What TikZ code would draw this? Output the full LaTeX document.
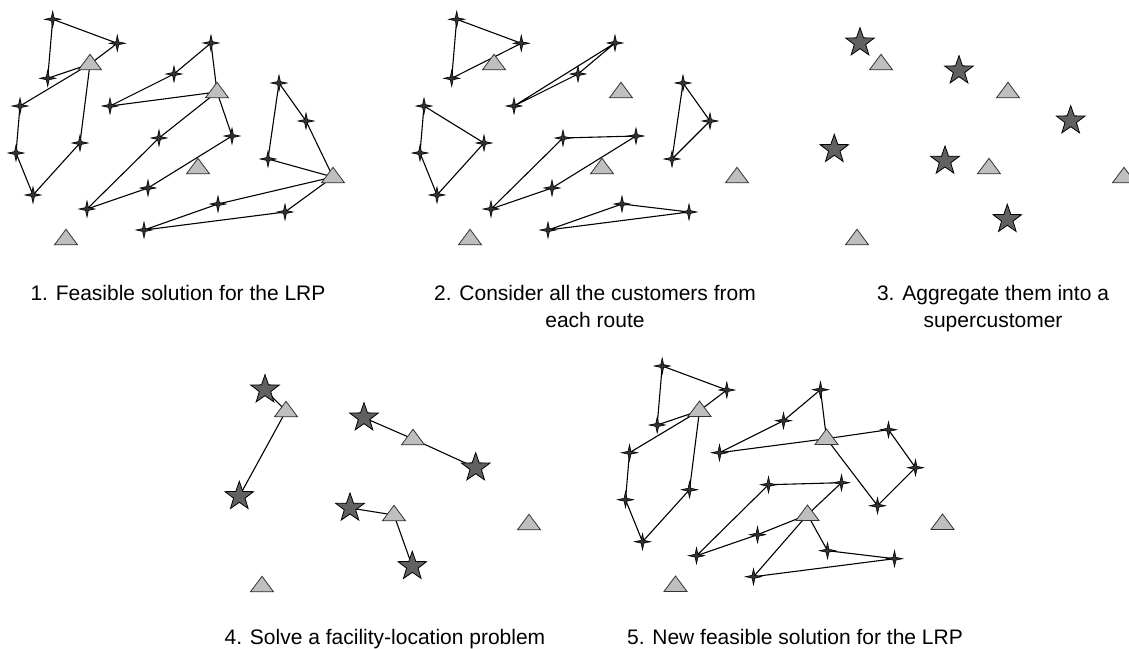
\documentclass[tikz,border=0pt]{standalone}
\usepackage{fontspec}
\setmainfont{Liberation Sans}
\usetikzlibrary{shapes.geometric,backgrounds}

% Building blocks of the five panels (coordinates in pixels, y downwards)
\newcommand\depotset[1]{%
  \node[depot] (#1D1) at (90,64) {};
  \node[depot] (#1D2) at (217,92) {};
  \node[depot] (#1D3) at (333,177) {};
  \node[depot] (#1D4) at (198,168) {};
  \node[depot] (#1D5) at (66,239) {};}
\newcommand\customerset[1]{%
  \node[customer] (#1A1) at (52.7,19.3) {};
  \node[customer] (#1A2) at (117.3,43.3) {};
  \node[customer] (#1A3) at (47.7,78.3) {};
  \node[customer] (#1B1) at (20,106) {};
  \node[customer] (#1B2) at (16,153) {};
  \node[customer] (#1B3) at (33,195) {};
  \node[customer] (#1B4) at (80,143) {};
  \node[customer] (#1C1) at (211,43) {};
  \node[customer] (#1C2) at (174,74) {};
  \node[customer] (#1C3) at (110,106) {};
  \node[customer] (#1E1) at (159,138) {};
  \node[customer] (#1E2) at (87,209) {};
  \node[customer] (#1E3) at (148,188) {};
  \node[customer] (#1E4) at (232,136) {};
  \node[customer] (#1F1) at (279,83) {};
  \node[customer] (#1F2) at (306,121) {};
  \node[customer] (#1F3) at (268,159) {};
  \node[customer] (#1G1) at (218,204) {};
  \node[customer] (#1G2) at (144,230) {};
  \node[customer] (#1G3) at (285,212) {};}
\newcommand\superset[1]{%
  \node[super] (#1SA) at (69,42.7) {};
  \node[super] (#1SB) at (43.3,149.3) {};
  \node[super] (#1SC) at (168,70.7) {};
  \node[super] (#1SE) at (154,161) {};
  \node[super] (#1SF) at (279.7,120.7) {};
  \node[super] (#1SG) at (216.3,219.3) {};}

\begin{document}
\begin{tikzpicture}[x=1pt,y=-1pt,
  depot/.style={isosceles triangle, shape border rotate=90,
    isosceles triangle stretches, minimum width=23pt, minimum height=15.5pt,
    inner sep=0pt, fill=black!25, draw=black!80, line width=0.8pt},
  customer/.style={star, star points=4, star point ratio=4,
    minimum size=16pt, inner sep=0pt, fill=black!80, draw=black, line width=0.6pt},
  super/.style={star, star points=5, star point ratio=2.5,
    minimum size=30pt, inner sep=0pt, fill=black!62, draw=black, line width=0.8pt},
  route/.style={draw=black, line width=1.1pt, line join=round},
  caption/.style={anchor=base, align=center, inner sep=0pt,
    font=\fontsize{21}{27}\selectfont}]

\useasboundingbox (0,0) rectangle (1129,648);

% 1. feasible solution
\begin{scope}
  \customerset{p1}
  \depotset{p1}
\end{scope}
% 2. customers of each route
\begin{scope}[shift={(404,0)}]
  \customerset{p2}
  \depotset{p2}
\end{scope}
% 3. supercustomers
\begin{scope}[shift={(791,0)}]
  \superset{p3}
  \depotset{p3}
\end{scope}
% 4. facility-location solution
\begin{scope}[shift={(196,347)}]
  \superset{p4}
  \depotset{p4}
\end{scope}
% 5. new feasible solution
\begin{scope}[shift={(609.5,346.7)}]
  \customerset{p5}
  \depotset{p5}
\end{scope}

\begin{scope}[on background layer]
  \fill[white] (0,0) rectangle (1129,648);
  % panel 1 routes
  \draw[route] (p1D1.center) -- (p1A2.center) -- (p1A1.center) -- (p1A3.center) -- cycle;
  \draw[route] (p1D1.center) -- (p1B1.center) -- (p1B2.center) -- (p1B3.center) -- (p1B4.center) -- cycle;
  \draw[route] (p1D2.center) -- (p1C1.center) -- (p1C2.center) -- (p1C3.center) -- cycle;
  \draw[route] (p1D2.center) -- (p1E1.center) -- (p1E2.center) -- (p1E3.center) -- (p1E4.center) -- cycle;
  \draw[route] (p1D3.center) -- (p1F2.center) -- (p1F1.center) -- (p1F3.center) -- cycle;
  \draw[route] (p1D3.center) -- (p1G1.center) -- (p1G2.center) -- (p1G3.center) -- cycle;
  % panel 2 routes without depots
  \draw[route] (p2A1.center) -- (p2A2.center) -- (p2A3.center) -- cycle;
  \draw[route] (p2B1.center) -- (p2B2.center) -- (p2B3.center) -- (p2B4.center) -- cycle;
  \draw[route] (p2C1.center) -- (p2C2.center) -- (p2C3.center) -- cycle;
  \draw[route] (p2E1.center) -- (p2E2.center) -- (p2E3.center) -- (p2E4.center) -- cycle;
  \draw[route] (p2F1.center) -- (p2F2.center) -- (p2F3.center) -- cycle;
  \draw[route] (p2G1.center) -- (p2G2.center) -- (p2G3.center) -- cycle;
  % panel 4 assignments
  \draw[route] (p4SA.center) -- (p4D1.center) -- (p4SB.center);
  \draw[route] (p4SC.center) -- (p4D2.center) -- (p4SF.center);
  \draw[route] (p4SE.center) -- (p4D4.center) -- (p4SG.center);
  % panel 5 routes
  \draw[route] (p5D1.center) -- (p5A2.center) -- (p5A1.center) -- (p5A3.center) -- cycle;
  \draw[route] (p5D1.center) -- (p5B1.center) -- (p5B2.center) -- (p5B3.center) -- (p5B4.center) -- cycle;
  \draw[route] (p5D2.center) -- (p5C1.center) -- (p5C2.center) -- (p5C3.center) -- cycle;
  \draw[route] (p5D2.center) -- (p5F1.center) -- (p5F2.center) -- (p5F3.center) -- cycle;
  \draw[route] (p5D4.center) -- (p5E4.center) -- (p5E1.center) -- (p5E2.center) -- (p5E3.center) -- cycle;
  \draw[route] (p5D4.center) -- (p5G1.center) -- (p5G3.center) -- (p5G2.center) -- cycle;
\end{scope}

% captions (base anchor = baseline of the last line)
\node[caption] (cap1) at (178,300) {1. Feasible solution for the LRP};
\node[caption] (cap2) at (595,327) {2. Consider all the customers from\\each route};
\node[caption] (cap3) at (993,327) {3. Aggregate them into a\\supercustomer};
\node[caption] (cap4) at (385,644) {4. Solve a facility-location problem};
\node[caption] (cap5) at (795,644) {5. New feasible solution for the LRP};
\end{tikzpicture}
\end{document}
